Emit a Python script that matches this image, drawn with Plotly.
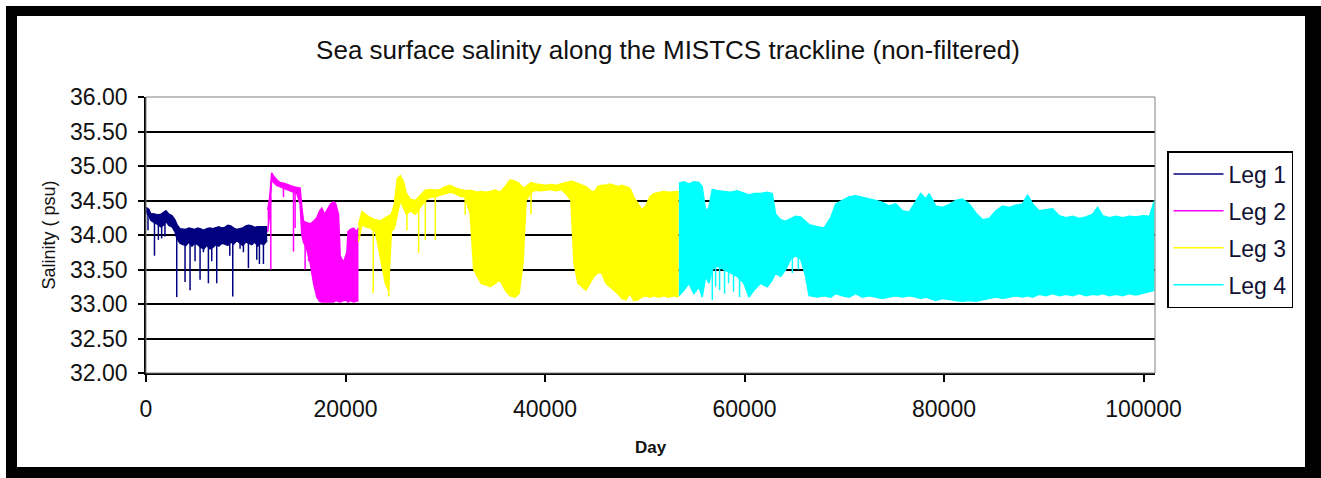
import plotly.graph_objects as go

# ---------------- data ----------------
legs = ["Leg 1", "Leg 2", "Leg 3", "Leg 4"]
colors = ["#000080", "#FF00FF", "#FFFF00", "#00FFFF"]

# Leg 1 envelope
leg1_x = [0, 150, 300, 450, 600, 900, 1200, 1500, 1800, 2000, 2300, 2600, 2900, 3100, 3400, 3700, 4000,
          4300, 4600, 4900, 5200, 5500, 5800, 6100, 6400, 6700, 7000, 7300, 7600, 7900, 8200, 8500, 8800,
          9100, 9400, 9700, 10000, 10300, 10600, 10900, 11200, 11500, 11800, 12150]
leg1_hi = [34.40, 34.38, 34.37, 34.31, 34.31, 34.30, 34.29, 34.30, 34.33, 34.35, 34.30, 34.28, 34.22, 34.15,
           34.09, 34.08, 34.08, 34.10, 34.09, 34.08, 34.10, 34.08, 34.07, 34.09, 34.10, 34.09, 34.10, 34.12,
           34.10, 34.11, 34.14, 34.13, 34.10, 34.08, 34.09, 34.10, 34.13, 34.14, 34.13, 34.11, 34.12, 34.12,
           34.11, 34.12]
leg1_lo = [34.35, 34.30, 34.28, 34.22, 34.20, 34.18, 34.15, 34.12, 34.15, 34.20, 34.14, 34.12, 34.05, 33.95,
           33.88, 33.86, 33.85, 33.90, 33.84, 33.88, 33.86, 33.82, 33.80, 33.85, 33.80, 33.82, 33.86, 33.84,
           33.88, 33.87, 33.85, 33.90, 33.87, 33.92, 33.88, 33.85, 33.90, 33.88, 33.86, 33.90, 33.84, 33.88,
           33.86, 33.92]
leg1_spk_x = [200, 850, 1240, 1570, 1900, 3080, 3914, 4415, 4917, 5419, 5753, 6255, 6590, 7090, 8400, 8697,
              9430, 9765, 10267, 11104, 11370, 11772]
leg1_spk_hi = [34.38, 34.31, 34.30, 34.30, 34.33, 34.15, 34.08, 34.10, 34.08, 34.10, 34.07, 34.09, 34.09,
               34.10, 34.13, 34.10, 34.08, 34.10, 34.14, 34.12, 34.12, 34.11]
leg1_spk_lo = [34.07, 33.70, 33.93, 33.95, 33.98, 33.10, 33.32, 33.20, 33.62, 33.35, 33.75, 33.30, 33.62,
               33.30, 33.70, 33.11, 33.80, 33.75, 33.52, 33.64, 33.58, 33.58]

# Leg 2 envelope
leg2_x = [12200, 12400, 12600, 12800, 13100, 13447, 13800, 14283, 14785, 15119, 15450, 15621, 15788, 16100,
          16457, 16800, 17126, 17400, 17628, 17900, 18130, 18500, 18799, 19000, 19300, 19468, 19800, 20137,
          20250, 20500, 20806, 21100, 21300]
leg2_hi = [34.36, 34.55, 34.90, 34.85, 34.80, 34.76, 34.75, 34.72, 34.70, 34.69, 34.68, 34.40, 34.20, 34.18,
           34.16, 34.20, 34.25, 34.35, 34.39, 34.30, 34.35, 34.45, 34.48, 34.46, 34.30, 33.70, 33.60, 33.75,
           34.05, 34.08, 34.10, 34.05, 34.10]
leg2_lo = [34.05, 34.30, 34.80, 34.76, 34.72, 34.70, 34.68, 34.65, 34.62, 34.60, 34.45, 34.00, 33.90, 33.80,
           33.60, 33.30, 33.10, 33.04, 33.03, 33.03, 33.04, 33.03, 33.03, 33.05, 33.04, 33.03, 33.05, 33.05,
           33.03, 33.05, 33.03, 33.04, 33.05]
leg2_spk_x = [12511, 13781, 14785, 14950, 15950, 16300]
leg2_spk_hi = [34.55, 34.75, 34.70, 34.69, 34.19, 34.18]
leg2_spk_lo = [33.50, 34.55, 33.76, 34.10, 33.50, 33.62]

# Leg 3 envelope
leg3_x = [21300, 21650, 22000, 22500, 23000, 23500, 24000, 24300, 24600, 24900, 25200, 25500, 25800, 26100,
          26500, 27000, 27500, 28000, 28500, 29000, 29500, 30000, 30500, 31000, 31500, 32000, 32500, 32850,
          33200, 33600, 34000, 34500, 35000, 35500, 36000, 36500, 37000, 37400, 37800, 38100, 38600, 39100,
          39600, 40100, 40600, 41100, 41600, 42100, 42600, 42900, 43300, 43700, 44100, 44500, 44900, 45300,
          45700, 46100, 46500, 46900, 47300, 47700, 48100, 48500, 48900, 49300, 49700, 50100, 50500, 50900,
          51400, 51900, 52400, 52900, 53400]
leg3_hi = [34.15, 34.34, 34.30, 34.25, 34.22, 34.20, 34.25, 34.28, 34.30, 34.45, 34.82, 34.86, 34.78, 34.60,
           34.52, 34.50, 34.58, 34.65, 34.66, 34.65, 34.66, 34.70, 34.72, 34.68, 34.66, 34.64, 34.65, 34.64,
           34.62, 34.63, 34.62, 34.63, 34.65, 34.62, 34.70, 34.80, 34.78, 34.75, 34.68, 34.70, 34.76, 34.74,
           34.73, 34.72, 34.73, 34.72, 34.74, 34.76, 34.78, 34.77, 34.75, 34.72, 34.70, 34.65, 34.62, 34.70,
           34.72, 34.72, 34.74, 34.72, 34.70, 34.72, 34.70, 34.68, 34.55, 34.45, 34.37, 34.42, 34.55, 34.60,
           34.62, 34.63, 34.62, 34.63, 34.63]
leg3_lo = [33.90, 34.15, 34.12, 34.10, 34.05, 33.70, 33.30, 33.20, 34.05, 34.10, 34.30, 34.50, 34.40, 34.30,
           34.35, 34.30, 34.40, 34.50, 34.55, 34.55, 34.58, 34.60, 34.62, 34.60, 34.56, 34.55, 34.30, 33.50,
           33.40, 33.30, 33.28, 33.25, 33.30, 33.35, 33.20, 33.12, 33.10, 33.15, 33.60, 34.50, 34.62, 34.65,
           34.64, 34.65, 34.66, 34.64, 34.66, 34.60, 34.50, 33.60, 33.30, 33.25, 33.20, 33.30, 33.40, 33.45,
           33.45, 33.30, 33.25, 33.20, 33.15, 33.08, 33.06, 33.15, 33.05, 33.06, 33.10, 33.12, 33.10, 33.12,
           33.10, 33.12, 33.10, 33.12, 33.10]
leg3_spk_x = [22775, 24350, 26160, 27330, 28000, 29000, 32000, 38600]
leg3_spk_hi = [34.22, 34.28, 34.60, 34.52, 34.65, 34.65, 34.64, 34.76]
leg3_spk_lo = [33.16, 33.11, 34.07, 33.74, 33.93, 33.93, 34.29, 34.30]

# Leg 4 envelope
leg4_x = [53420, 53920, 54425, 54925, 55430, 55760, 56100, 56430, 56770, 57270, 57940, 58600, 59270, 59940,
          60440, 60940, 61610, 62280, 62780, 63120, 63620, 64120, 64620, 65130, 65630, 66130, 66470, 67300,
          67970, 68640, 69140, 69810, 70480, 71150, 71820, 72490, 73160, 73820, 74490, 75160, 75830, 76500,
          77170, 77670, 78170, 78500, 79170, 79840, 80510, 81180, 81850, 82520, 83190, 83860, 84530, 85200,
          85870, 86540, 87200, 87870, 88375, 88875, 89540, 90210, 90880, 91550, 92220, 92890, 93560, 94230,
          94900, 95400, 95900, 96570, 97240, 97910, 98580, 99250, 99920, 100590, 101100]
leg4_hi = [34.75, 34.77, 34.74, 34.77, 34.76, 34.70, 34.35, 34.40, 34.66, 34.64, 34.63, 34.62, 34.64, 34.60,
           34.58, 34.60, 34.60, 34.62, 34.60, 34.30, 34.22, 34.20, 34.24, 34.27, 34.26, 34.20, 34.15, 34.12,
           34.10, 34.25, 34.45, 34.50, 34.55, 34.57, 34.55, 34.52, 34.50, 34.47, 34.42, 34.45, 34.35, 34.33,
           34.48, 34.60, 34.52, 34.60, 34.42, 34.40, 34.44, 34.50, 34.52, 34.45, 34.32, 34.22, 34.24, 34.35,
           34.42, 34.40, 34.43, 34.45, 34.58, 34.45, 34.35, 34.36, 34.38, 34.28, 34.25, 34.27, 34.24, 34.26,
           34.30, 34.40, 34.28, 34.25, 34.27, 34.25, 34.27, 34.26, 34.28, 34.27, 34.50]
leg4_lo = [33.12, 33.20, 33.30, 33.15, 33.25, 33.10, 33.40, 33.30, 33.50, 33.55, 33.50, 33.45, 33.40, 33.30,
           33.10, 33.20, 33.30, 33.25, 33.35, 33.45, 33.40, 33.50, 33.65, 33.70, 33.65, 33.40, 33.12, 33.10,
           33.12, 33.10, 33.15, 33.12, 33.10, 33.15, 33.10, 33.12, 33.10, 33.08, 33.10, 33.12, 33.10, 33.12,
           33.10, 33.08, 33.10, 33.08, 33.05, 33.08, 33.06, 33.05, 33.04, 33.05, 33.04, 33.06, 33.08, 33.10,
           33.08, 33.10, 33.12, 33.10, 33.12, 33.10, 33.14, 33.12, 33.15, 33.12, 33.14, 33.12, 33.15, 33.12,
           33.14, 33.13, 33.15, 33.12, 33.14, 33.12, 33.15, 33.13, 33.15, 33.18, 33.20]
leg4_spk_x = [56770, 57100, 57500, 58000, 58400, 58900, 59500, 64800, 65400]
leg4_spk_hi = [34.60, 34.63, 34.63, 34.62, 34.62, 34.63, 34.62, 34.24, 34.26]
leg4_spk_lo = [33.06, 33.25, 33.20, 33.15, 33.30, 33.18, 33.10, 33.45, 33.50]

x_ticks = [0, 20000, 40000, 60000, 80000, 100000]
y_ticks = [32.0, 32.5, 33.0, 33.5, 34.0, 34.5, 35.0, 35.5, 36.0]

series = [
    (leg1_x, leg1_hi, leg1_lo, leg1_spk_x, leg1_spk_hi, leg1_spk_lo),
    (leg2_x, leg2_hi, leg2_lo, leg2_spk_x, leg2_spk_hi, leg2_spk_lo),
    (leg3_x, leg3_hi, leg3_lo, leg3_spk_x, leg3_spk_hi, leg3_spk_lo),
    (leg4_x, leg4_hi, leg4_lo, leg4_spk_x, leg4_spk_hi, leg4_spk_lo),
]

FONT = "Arial, Liberation Sans, sans-serif"

fig = go.Figure()
for name, col, (bx, bhi, blo, sx, shi, slo) in zip(legs, colors, series):
    fig.add_trace(go.Scatter(x=bx, y=bhi, mode="lines", name=name, legendgroup=name,
                             line=dict(color=col, width=1.5), hoverinfo="skip"))
    fig.add_trace(go.Scatter(x=bx, y=blo, mode="lines", name=name, legendgroup=name, showlegend=False,
                             line=dict(color=col, width=1.5), fill="tonexty", fillcolor=col,
                             hoverinfo="skip"))
    px, py = [], []
    for a, h, l in zip(sx, shi, slo):
        px += [a, a, None]
        py += [h, l, None]
    fig.add_trace(go.Scatter(x=px, y=py, mode="lines", name=name, legendgroup=name, showlegend=False,
                             line=dict(color=col, width=1.5), hoverinfo="skip"))

W, H = 1321, 478
ML, MR, MT, MB = 146, 166, 97, 105
pw, ph = W - ML - MR, H - MT - MB


def pxx(v):
    return (v - ML) / pw


def pyy(v):
    return (H - MB - v) / ph


def band(x0, y0, x1, y1):
    return dict(type="rect", xref="paper", yref="paper",
                x0=pxx(x0), x1=pxx(x1), y0=pyy(y1), y1=pyy(y0),
                line=dict(width=0), fillcolor="black", layer="above")


fig.update_layout(
    width=W, height=H,
    margin=dict(l=ML, r=MR, t=MT, b=MB, pad=0),
    paper_bgcolor="white", plot_bgcolor="white",
    font=dict(family=FONT, color="#111111", size=23),
    title=dict(text="Sea surface salinity along the MISTCS trackline (non-filtered)",
               x=668 / W, xref="container", xanchor="center",
               y=1 - 50 / H, yref="container", yanchor="middle",
               font=dict(family=FONT, size=26, color="#111111")),
    showlegend=True,
    legend=dict(x=pxx(1167), y=pyy(151), xanchor="left", yanchor="top",
                bgcolor="white", bordercolor="black", borderwidth=1.5,
                font=dict(family=FONT, size=23, color="#111133"),
                traceorder="grouped", tracegroupgap=4, itemwidth=50),
    xaxis=dict(range=[0, 101150], tickvals=x_ticks, ticktext=[str(v) for v in x_ticks],
               ticks="outside", ticklen=7, tickcolor="black", tickwidth=1.5,
               showline=True, linecolor="black", linewidth=1.5, showgrid=False, zeroline=False,
               tickfont=dict(family=FONT, size=23), ticklabelstandoff=8,
               title=dict(text="<b>Day</b>", font=dict(family=FONT, size=17), standoff=20)),
    yaxis=dict(range=[32, 36], tickvals=y_ticks, tickformat=".2f",
               ticks="outside", ticklen=6, tickcolor="black", tickwidth=1.5,
               showline=True, linecolor="black", linewidth=1.5,
               showgrid=True, gridcolor="black", gridwidth=1.5, zeroline=False,
               tickfont=dict(family=FONT, size=23), ticklabelstandoff=6,
               title=dict(text="Salinity ( psu)", font=dict(family=FONT, size=18), standoff=10)),
    shapes=[
        dict(type="rect", xref="paper", yref="paper", x0=0, x1=1, y0=0, y1=1,
             line=dict(color="#808080", width=1), layer="above"),
        band(6, 6, 17, 478),      # left frame band
        band(6, 6, 1321, 16),     # top frame band
        band(1305, 6, 1321, 478),  # right frame band
        band(6, 467, 1321, 478),  # bottom frame band
    ],
)

fig.write_html("out.html", config={"displayModeBar": False},
               post_script="document.body.style.margin='0px';")
